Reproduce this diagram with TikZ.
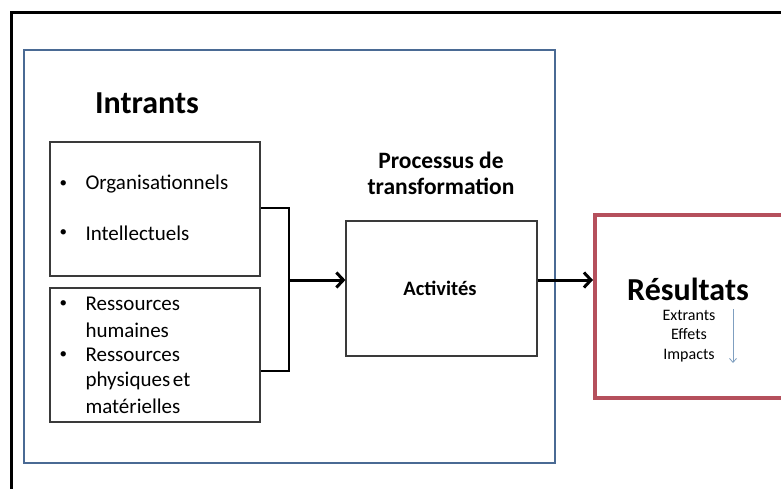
\documentclass[tikz,border=0pt]{standalone}
\usepackage{fontspec}
\setmainfont{Carlito}
\usetikzlibrary{arrows.meta,calc}
\definecolor{frameblue}{HTML}{4A6A94}
\definecolor{framered}{HTML}{B5505C}
\definecolor{boxgray}{HTML}{3A3A3A}
\definecolor{lightarrow}{HTML}{7F9FC0}
\tikzset{
  link/.style={draw=black, line width=2pt},
  flow/.style={draw=black, line width=3pt, -{Straight Barb[length=7pt,width=15pt,line width=3pt]}},
  bullet/.style={font=\fontsize{21}{24}\selectfont, anchor=west},
  dot/.style={font=\fontsize{15}{18}\selectfont, anchor=west},
}
\begin{document}
\begin{tikzpicture}[x=1pt,y=-1pt]
\useasboundingbox (0,0) rectangle (781,488);
\clip (0,0) rectangle (781,488);
\fill[white] (0,0) rectangle (781,488);

% outer frame, running off the page
\draw[black, line width=3pt] (11,520) -- (11,12) -- (820,12);

% main blue panel
\draw[frameblue, line width=2.2pt] (24,50) rectangle (555,463);

% heading of the inputs
\node (intrants) at (147,103) {\fontsize{32}{36}\selectfont\bfseries Intrants};

% input boxes
\node[draw=boxgray, line width=1.2pt, minimum width=210pt, minimum height=134pt] (box1) at (155,209) {};
\node[draw=boxgray, line width=1.2pt, minimum width=210pt, minimum height=134pt] (box2) at (155,355) {};

\node[dot] (b1) at (56,184) {•};
\node[bullet] (t1) at (82,184) {Organisationnels};
\node[dot] (b2) at (56,233) {•};
\node[bullet] (t2) at (82,233) {Intellectuels};

\node[dot] (b3) at (56,304) {•};
\node[bullet] (t3) at (82,304) {Ressources};
\node[bullet] (t4) at (82,330) {humaines};
\node[dot] (b4) at (56,355) {•};
\node[bullet] (t5) at (82,355) {Ressources};
\node[bullet] (t6) at (82,381) {physiques\kern-2pt\ et};
\node[bullet] (t7) at (82,406) {matérielles};

% transformation
\node[align=center, font=\fontsize{23.5}{26}\selectfont\bfseries] (proc) at (441,173)
  {Processus de\\transformation};
\node[draw=boxgray, line width=1.2pt, minimum width=191pt, minimum height=135pt] (act) at (441.5,288.5) {};
\node[font=\fontsize{20.5}{22}\selectfont\bfseries] (acttxt) at (440,288) {Activités};

% results
\node[draw=framered, line width=3.5pt, minimum width=220pt, minimum height=183pt, anchor=north west] (res) at (593,213) {};
\node[font=\fontsize{32}{36}\selectfont\bfseries] (restxt) at (688,289) {Résultats};
\node[font=\fontsize{16}{19.5}\selectfont, align=center] (levels) at (689,336) {Extrants\\Effets\\Impacts};
\coordinate (dtop) at (733,309);
\coordinate (dbot) at (733,363);
\draw[lightarrow, line width=0.8pt, -{Straight Barb[length=4pt,width=7pt,line width=0.8pt]}] (dtop) -- (dbot);

% bracket joining the two input boxes
\coordinate (j1) at (289,208);
\coordinate (j2) at (289,371);
\coordinate (jm) at (289,280);
\draw[link] (box1.east |- j1) -- (j1) -- (j2) -- (box2.east |- j2);

% main flow arrows
\draw[flow] (jm) -- (act.west |- jm);
\draw[flow] (act.east |- jm) -- (res.west |- jm);
\end{tikzpicture}
\end{document}
